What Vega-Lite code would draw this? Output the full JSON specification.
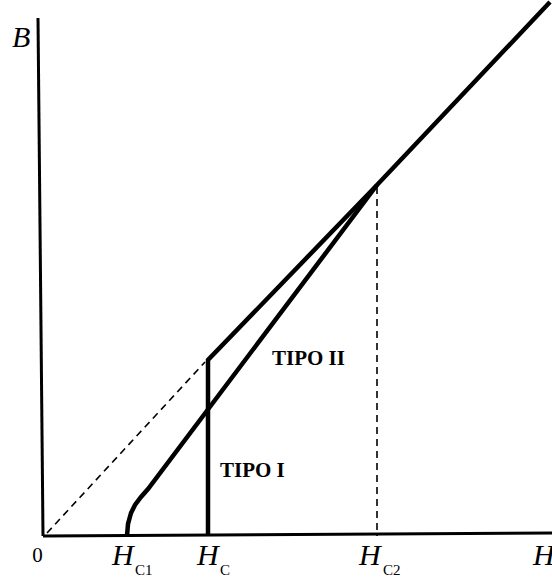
{
  "$schema": "https://vega.github.io/schema/vega-lite/v6.json",
  "width": 552,
  "height": 577,
  "autosize": "none",
  "padding": 0,
  "background": "white",
  "config": {"view": {"stroke": null}},
  "datasets": {
    "lines": [
      {"series": "axisY", "i": 0, "x": -5, "y": 518},
      {"series": "axisY", "i": 1, "x": 0, "y": 0},
      {"series": "axisX", "i": 0, "x": 0, "y": 0},
      {"series": "axisX", "i": 1, "x": 509, "y": 3},
      {"series": "tipoI", "i": 0, "x": 165, "y": 0},
      {"series": "tipoI", "i": 1, "x": 165, "y": 176},
      {"series": "tipoI", "i": 2, "x": 334, "y": 351},
      {"series": "tipoI", "i": 3, "x": 507, "y": 534},
      {"series": "tipoII", "i": 0, "x": 84, "y": 0},
      {"series": "tipoII", "i": 1, "x": 85, "y": 12},
      {"series": "tipoII", "i": 2, "x": 88, "y": 23},
      {"series": "tipoII", "i": 3, "x": 92, "y": 31},
      {"series": "tipoII", "i": 4, "x": 98, "y": 39},
      {"series": "tipoII", "i": 5, "x": 105, "y": 47},
      {"series": "tipoII", "i": 6, "x": 334, "y": 351}
    ],
    "dashed": [
      {"series": "diag", "i": 0, "x": 4, "y": 3},
      {"series": "diag", "i": 1, "x": 162, "y": 174},
      {"series": "hc2", "i": 0, "x": 334, "y": 349},
      {"series": "hc2", "i": 1, "x": 334, "y": 0}
    ],
    "big": [
      {"label": "B", "x": -31, "y": 489},
      {"label": "H", "x": 69, "y": -29},
      {"label": "H", "x": 154, "y": -29},
      {"label": "H", "x": 316, "y": -29},
      {"label": "H", "x": 490, "y": -29}
    ],
    "sub": [
      {"label": "C1", "x": 92, "y": -39},
      {"label": "C", "x": 177, "y": -39},
      {"label": "C2", "x": 340, "y": -39}
    ],
    "tipo": [
      {"label": "TIPO II", "x": 229, "y": 171},
      {"label": "TIPO I", "x": 177, "y": 59}
    ],
    "zero": [
      {"label": "0", "x": -5.5, "y": -26}
    ]
  },
  "layer": [
    {
      "data": {"name": "lines"},
      "transform": [{"filter": "datum.series === 'axisX' || datum.series === 'axisY'"}],
      "mark": {"type": "line", "color": "black", "strokeWidth": 3},
      "encoding": {
        "x": {"field": "x", "type": "quantitative", "scale": {"domain": [-43, 509], "nice": false, "zero": false}, "axis": null},
        "y": {"field": "y", "type": "quantitative", "scale": {"domain": [-41, 536], "nice": false, "zero": false}, "axis": null},
        "detail": {"field": "series"},
        "order": {"field": "i"}
      }
    },
    {
      "data": {"name": "lines"},
      "transform": [{"filter": "datum.series === 'tipoI' || datum.series === 'tipoII'"}],
      "mark": {"type": "line", "color": "black", "strokeWidth": 4.5, "strokeJoin": "miter", "clip": true},
      "encoding": {
        "x": {"field": "x", "type": "quantitative"},
        "y": {"field": "y", "type": "quantitative"},
        "detail": {"field": "series"},
        "order": {"field": "i"}
      }
    },
    {
      "data": {"name": "dashed"},
      "mark": {"type": "line", "color": "black", "strokeWidth": 1.6, "strokeDash": [7, 5]},
      "encoding": {
        "x": {"field": "x", "type": "quantitative"},
        "y": {"field": "y", "type": "quantitative"},
        "detail": {"field": "series"},
        "order": {"field": "i"}
      }
    },
    {
      "data": {"name": "big"},
      "mark": {"type": "text", "font": "Liberation Serif", "fontStyle": "italic", "fontSize": 30, "align": "left", "baseline": "alphabetic", "color": "black"},
      "encoding": {
        "x": {"field": "x", "type": "quantitative"},
        "y": {"field": "y", "type": "quantitative"},
        "text": {"field": "label"}
      }
    },
    {
      "data": {"name": "sub"},
      "mark": {"type": "text", "font": "Liberation Serif", "fontSize": 15, "align": "left", "baseline": "alphabetic", "color": "black"},
      "encoding": {
        "x": {"field": "x", "type": "quantitative"},
        "y": {"field": "y", "type": "quantitative"},
        "text": {"field": "label"}
      }
    },
    {
      "data": {"name": "zero"},
      "mark": {"type": "text", "font": "Liberation Serif", "fontSize": 21, "align": "center", "baseline": "alphabetic", "color": "black"},
      "encoding": {
        "x": {"field": "x", "type": "quantitative"},
        "y": {"field": "y", "type": "quantitative"},
        "text": {"field": "label"}
      }
    },
    {
      "data": {"name": "tipo"},
      "mark": {"type": "text", "font": "Liberation Serif", "fontWeight": "bold", "fontSize": 21, "align": "left", "baseline": "alphabetic", "color": "black"},
      "encoding": {
        "x": {"field": "x", "type": "quantitative"},
        "y": {"field": "y", "type": "quantitative"},
        "text": {"field": "label"}
      }
    }
  ]
}
